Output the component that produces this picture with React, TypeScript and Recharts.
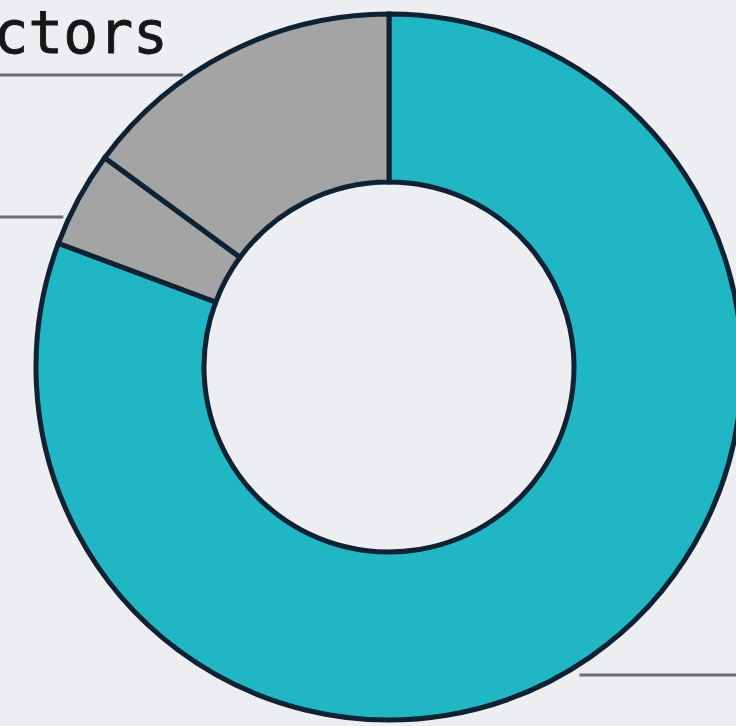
import React from "react";
import { PieChart, Pie, Cell } from "recharts";

const categories = ["Main factor", "Minor factor", "Other factors"];
const values = [80.7, 4.4, 14.9];
const colors = ["#20b6c4", "#a4a4a5", "#a4a4a5"];
const titleText = "ctors";

const data = categories.map((name, i) => ({ name, value: values[i] }));

const CX = 389;
const CY = 367;
const OUTER = 353;
const INNER = 185;
// leader offsets (vertical, relative to centre) per slice, and direction
const leaderDy = [308, -150, -292];
const leaderDir = [1, -1, -1];

const LeaderLabel = (props: any) => {
  const { index, cx, cy, outerRadius } = props;
  const dy = leaderDy[index];
  const dir = leaderDir[index];
  const r = outerRadius + 2;
  const dx = Math.sqrt(Math.max(0, r * r - dy * dy));
  const y = cy + dy;
  const x1 = cx + dir * (dx + (dir > 0 ? 14 : 4));
  const x2 = dir > 0 ? 760 : -20;
  return (
    <line x1={x1} y1={y} x2={x2} y2={y} stroke="#6e6e70" strokeWidth={3} />
  );
};

export default function App() {
  return (
    <div
      style={{
        position: "fixed",
        left: 0,
        top: 0,
        width: 736,
        height: 726,
        background: "#eceef1",
        overflow: "hidden",
      }}
    >
      <PieChart width={736} height={726} margin={{ top: 0, right: 0, bottom: 0, left: 0 }}>
        <text
          x={168}
          y={53}
          textAnchor="end"
          fontFamily="'DejaVu Sans Mono', monospace"
          fontSize={58}
          stroke="#161616"
          strokeWidth={0.8}
          fill="#161616"
        >
          {titleText}
        </text>
        <Pie
          data={data}
          dataKey="value"
          nameKey="name"
          cx={CX}
          cy={CY}
          innerRadius={INNER}
          outerRadius={OUTER}
          startAngle={90}
          endAngle={-270}
          stroke="#0e2233"
          strokeWidth={5}
          isAnimationActive={false}
          label={LeaderLabel}
          labelLine={false}
        >
          {data.map((d, i) => (
            <Cell key={d.name} fill={colors[i]} />
          ))}
        </Pie>
      </PieChart>
    </div>
  );
}
